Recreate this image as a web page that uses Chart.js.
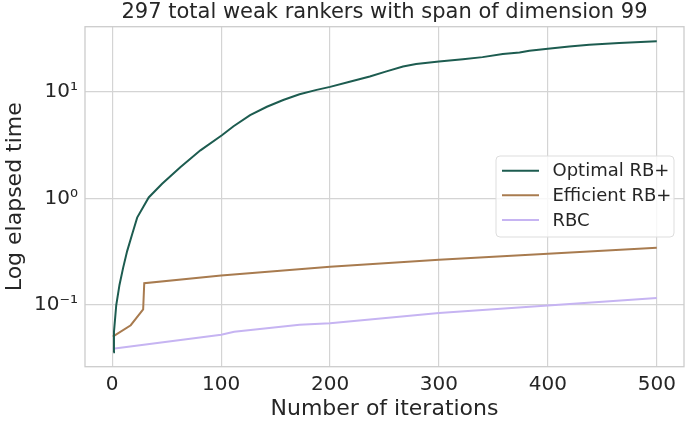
<!DOCTYPE html>
<html>
<head>
<meta charset="utf-8">
<script src="https://cdn.jsdelivr.net/npm/chart.js@4.4.0/dist/chart.umd.min.js"></script>
<style>
html,body{margin:0;padding:0;background:#fff;}
#wrap{width:685px;height:422px;position:relative;}
</style>
</head>
<body>
<div id="wrap"><canvas id="c" width="685" height="422"></canvas></div>
<script>
const titleText = "297 total weak rankers with span of dimension 99";
const xLabel = "Number of iterations";
const yLabel = "Log elapsed time";
const seriesNames = ["Optimal RB+", "Efficient RB+", "RBC"];
const xTicks = [0, 100, 200, 300, 400, 500];
const yTicks = [0.1, 1, 10];
const yTickLabels = ["10\u207B\u00B9", "10\u2070", "10\u00B9"];

const optimalIter = [1, 1.6, 3.7, 6.7, 10, 13.7, 18.3, 22.9, 33.5, 45.8, 62.5, 81, 100.7, 111.4, 126.6, 142, 157, 172, 187.7, 200, 218, 236.5, 251.8, 267, 279, 300, 322, 340, 358.6, 374, 383, 400, 419.7, 438, 465.5, 500];
const optimalTime = [0.036, 0.056, 0.1, 0.155, 0.223, 0.32, 0.461, 0.66, 1.02, 1.37, 1.96, 2.82, 3.90, 4.75, 6.03, 7.23, 8.36, 9.45, 10.4, 11.1, 12.4, 13.9, 15.5, 17.2, 18.2, 19.2, 20.2, 21.1, 22.6, 23.3, 24.2, 25.3, 26.6, 27.5, 28.6, 29.7];

const efficientIter = [0.5, 17, 28.4, 29.4, 100, 200, 300, 400, 500];
const efficientTime = [0.0505, 0.0646, 0.0911, 0.16, 0.189, 0.228, 0.266, 0.303, 0.345];

const rbcIter = [0.5, 100, 112, 172, 200, 300, 400, 500];
const rbcTime = [0.0388, 0.0527, 0.0560, 0.0653, 0.0676, 0.0841, 0.0987, 0.1164];

const colors = ["#1d5c50", "#a87b4f", "#c6b4f2"];
const FONT = "'DejaVu Sans', sans-serif";
const TEXT = "#262626";
const GRID = "#d4d4d4";

function pts(xs, ys){ return xs.map((x,i)=>({x:x, y:ys[i]})); }

const framePlugin = {
  id: 'frame',
  afterDatasetsDraw(chart){
    const ctx = chart.ctx, a = chart.chartArea;
    ctx.save();
    ctx.strokeStyle = "#cccccc";
    ctx.lineWidth = 1.3;
    ctx.strokeRect(a.left, a.top, a.right - a.left, a.bottom - a.top);
    ctx.restore();
  }
};

const titlePlugin = {
  id: 'axesTitle',
  afterDraw(chart){
    const ctx = chart.ctx, a = chart.chartArea;
    ctx.save();
    ctx.font = "21px " + FONT;
    ctx.fillStyle = TEXT;
    ctx.textAlign = "center";
    ctx.textBaseline = "middle";
    ctx.fillText(titleText, (a.left + a.right) / 2, 12.5);
    ctx.restore();
  }
};

const legendPlugin = {
  id: 'innerLegend',
  afterDraw(chart){
    const ctx = chart.ctx;
    const bx = 496, by = 156, bw = 178, bh = 81, r = 4;
    ctx.save();
    ctx.beginPath();
    ctx.moveTo(bx + r, by);
    ctx.lineTo(bx + bw - r, by);
    ctx.arcTo(bx + bw, by, bx + bw, by + r, r);
    ctx.lineTo(bx + bw, by + bh - r);
    ctx.arcTo(bx + bw, by + bh, bx + bw - r, by + bh, r);
    ctx.lineTo(bx + r, by + bh);
    ctx.arcTo(bx, by + bh, bx, by + bh - r, r);
    ctx.lineTo(bx, by + r);
    ctx.arcTo(bx, by, bx + r, by, r);
    ctx.closePath();
    ctx.fillStyle = "rgba(255,255,255,0.8)";
    ctx.fill();
    ctx.strokeStyle = "#dddddd";
    ctx.lineWidth = 1;
    ctx.stroke();
    ctx.font = "18px " + FONT;
    ctx.textBaseline = "middle";
    ctx.textAlign = "left";
    chart.data.datasets.forEach((ds, i) => {
      const y = 170.7 + i * 24.6;
      ctx.strokeStyle = ds.borderColor;
      ctx.lineWidth = 2;
      ctx.beginPath();
      ctx.moveTo(502, y);
      ctx.lineTo(539, y);
      ctx.stroke();
      ctx.fillStyle = TEXT;
      ctx.fillText(ds.label, 552.5, y + 1);
    });
    ctx.restore();
  }
};

new Chart(document.getElementById('c'), {
  type: 'line',
  data: {
    datasets: [
      {label: seriesNames[0], data: pts(optimalIter, optimalTime), borderColor: colors[0]},
      {label: seriesNames[1], data: pts(efficientIter, efficientTime), borderColor: colors[1]},
      {label: seriesNames[2], data: pts(rbcIter, rbcTime), borderColor: colors[2]}
    ].map(d => Object.assign(d, {borderWidth: 2, pointRadius: 0, tension: 0, fill: false}))
  },
  options: {
    responsive: false,
    animation: false,
    devicePixelRatio: 1,
    layout: {padding: {left: 0, right: 1, top: 26.7, bottom: 0}},
    plugins: {
      legend: {display: false},
      tooltip: {enabled: false},
      title: {display: false}
    },
    scales: {
      x: {
        type: 'linear',
        min: -25, max: 525,
        bounds: 'data',
        afterBuildTicks(s){ s.ticks = xTicks.map(v => ({value: v})); },
        afterFit(s){ s.height = 55.3; },
        grid: {color: GRID, lineWidth: 1.2, drawTicks: false},
        border: {display: false},
        ticks: {color: TEXT, font: {family: FONT, size: 20}, padding: 6, maxRotation: 0,
          callback: v => String(v)},
        title: {display: true, text: xLabel, color: TEXT,
          font: {family: FONT, size: 22, lineHeight: 1.1}, padding: {top: 0, bottom: 1}}
      },
      y: {
        type: 'logarithmic',
        min: 0.02639, max: 40.7,
        bounds: 'data',
        afterBuildTicks(s){ s.ticks = yTicks.map(v => ({value: v})); },
        afterFit(s){ s.width = 85; },
        grid: {color: GRID, lineWidth: 1.2, drawTicks: false},
        border: {display: false},
        ticks: {color: TEXT, font: {family: FONT, size: 20}, padding: 7,
          callback: (v) => { const i = yTicks.indexOf(v); return i >= 0 ? yTickLabels[i] : ''; }},
        title: {display: true, text: yLabel, color: TEXT,
          font: {family: FONT, size: 22, lineHeight: 1.2}, padding: {top: 2, bottom: 0}}
      }
    }
  },
  plugins: [framePlugin, legendPlugin, titlePlugin]
});
</script>
</body>
</html>
